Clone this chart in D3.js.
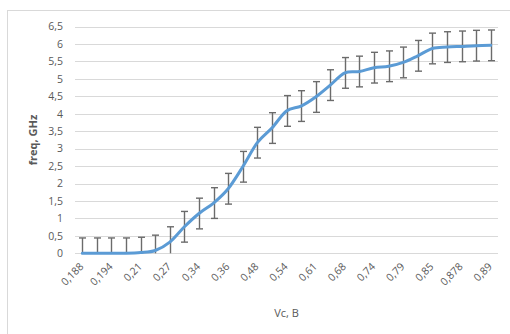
<!DOCTYPE html>
<html><head><meta charset="utf-8">
<script src="https://cdn.jsdelivr.net/npm/d3@7/dist/d3.min.js"></script>
<style>html,body{margin:0;padding:0;background:#fff;}svg{display:block;}</style>
</head><body>
<script>
// Categories (Vc, B) — every other one is labelled on the axis
const categories = ["0,188","0,19","0,194","0,2","0,21","0,24","0,27","0,3","0,34","0,35",
  "0,36","0,42","0,48","0,51","0,54","0,58","0,61","0,65","0,68","0,71",
  "0,74","0,77","0,79","0,82","0,85","0,86","0,878","0,885","0,89"];
// freq, GHz
const freq = [0,0,0,0,0.02,0.08,0.32,0.76,1.14,1.44,
  1.85,2.48,3.17,3.59,4.08,4.22,4.48,4.82,5.17,5.21,
  5.32,5.36,5.47,5.66,5.87,5.91,5.93,5.95,5.96];
const errorAmount = 0.44;
const yTicks = [0,0.5,1,1.5,2,2.5,3,3.5,4,4.5,5,5.5,6,6.5];
const yTickLabels = ["0","0,5","1","1,5","2","2,5","3","3,5","4","4,5","5","5,5","6","6,5"];

(function () {
const W = 510, H = 334;
const pLeft = 75, pRight = 498, pTop = 26.5, pBottom = 253.3;
const font = "'Open Sans', 'Liberation Sans', sans-serif";
const txt = "#595959";

const svg = d3.select("body").append("svg").attr("width", W).attr("height", H);
svg.append("rect").attr("x", 7.5).attr("y", 10.5).attr("width", 520).attr("height", 340)
  .attr("fill", "#fff").attr("stroke", "#d9d9d9").attr("stroke-width", 1);

const x = d3.scaleBand().domain(categories).range([pLeft, pRight]);
const y = d3.scaleLinear().domain([0, 6.5]).range([pBottom, pTop]);
const cx = c => x(c) + x.bandwidth() / 2;

// gridlines
svg.append("g").selectAll("line").data(yTicks).join("line")
  .attr("x1", pLeft).attr("x2", pRight)
  .attr("y1", d => Math.round(y(d)) + 0.5).attr("y2", d => Math.round(y(d)) + 0.5)
  .attr("stroke", "#d9d9d9").attr("stroke-width", 1);

// y axis labels
const yAxis = d3.axisLeft(y).tickValues(yTicks).tickSize(0).tickPadding(0)
  .tickFormat((d, i) => yTickLabels[i]);
const ya = svg.append("g").attr("transform", `translate(${pLeft - 12},0)`).call(yAxis);
ya.select(".domain").remove();
ya.selectAll("text").attr("font-family", font).attr("font-size", 10.5).attr("fill", txt);

// x axis labels
const xAxis = d3.axisBottom(x).tickSize(0).tickPadding(0)
  .tickValues(categories.filter((c, i) => i % 2 === 0));
const xa = svg.append("g").attr("transform", `translate(0,${pBottom})`).call(xAxis);
xa.select(".domain").remove();
xa.selectAll("text")
  .attr("font-family", font).attr("font-size", 10.5).attr("fill", txt)
  .attr("text-anchor", "end").attr("dy", 0).attr("y", 0)
  .attr("transform", "translate(2,14) rotate(-45)");

// error bars (clipped to axis range)
const eb = svg.append("g").attr("stroke", "#6b6b6b").attr("stroke-width", 1.4);
categories.forEach((c, i) => {
  const v = freq[i];
  const hi = Math.min(6.5, v + errorAmount), lo = v - errorAmount;
  const px = Math.round(cx(c)) + 0.5;
  eb.append("line").attr("x1", px).attr("x2", px)
    .attr("y1", y(hi)).attr("y2", y(Math.max(0, lo)));
  eb.append("line").attr("x1", px - 3.5).attr("x2", px + 3.5).attr("y1", y(hi)).attr("y2", y(hi));
  if (lo >= 0) eb.append("line").attr("x1", px - 3.5).attr("x2", px + 3.5).attr("y1", y(lo)).attr("y2", y(lo));
});

// line (smoothed like Excel)
const line = d3.line().x((d, i) => cx(categories[i])).y(d => y(d)).curve(d3.curveCardinal.tension(0));
svg.append("path").datum(freq).attr("d", line)
  .attr("fill", "none").attr("stroke", "#5b9bd5").attr("stroke-width", 3)
  .attr("stroke-linejoin", "round").attr("stroke-linecap", "round");

// axis titles
svg.append("text").attr("transform", `translate(37,${(pTop + pBottom) / 2}) rotate(-90)`)
  .attr("text-anchor", "middle").attr("font-family", font).attr("font-size", 11)
  .attr("font-weight", "bold").attr("fill", txt).text("freq, GHz");
svg.append("text").attr("x", (pLeft + pRight) / 2).attr("y", 317)
  .attr("text-anchor", "middle").attr("font-family", font).attr("font-size", 11)
  .attr("fill", txt).text("Vc, B");
})();
</script>
</body></html>
